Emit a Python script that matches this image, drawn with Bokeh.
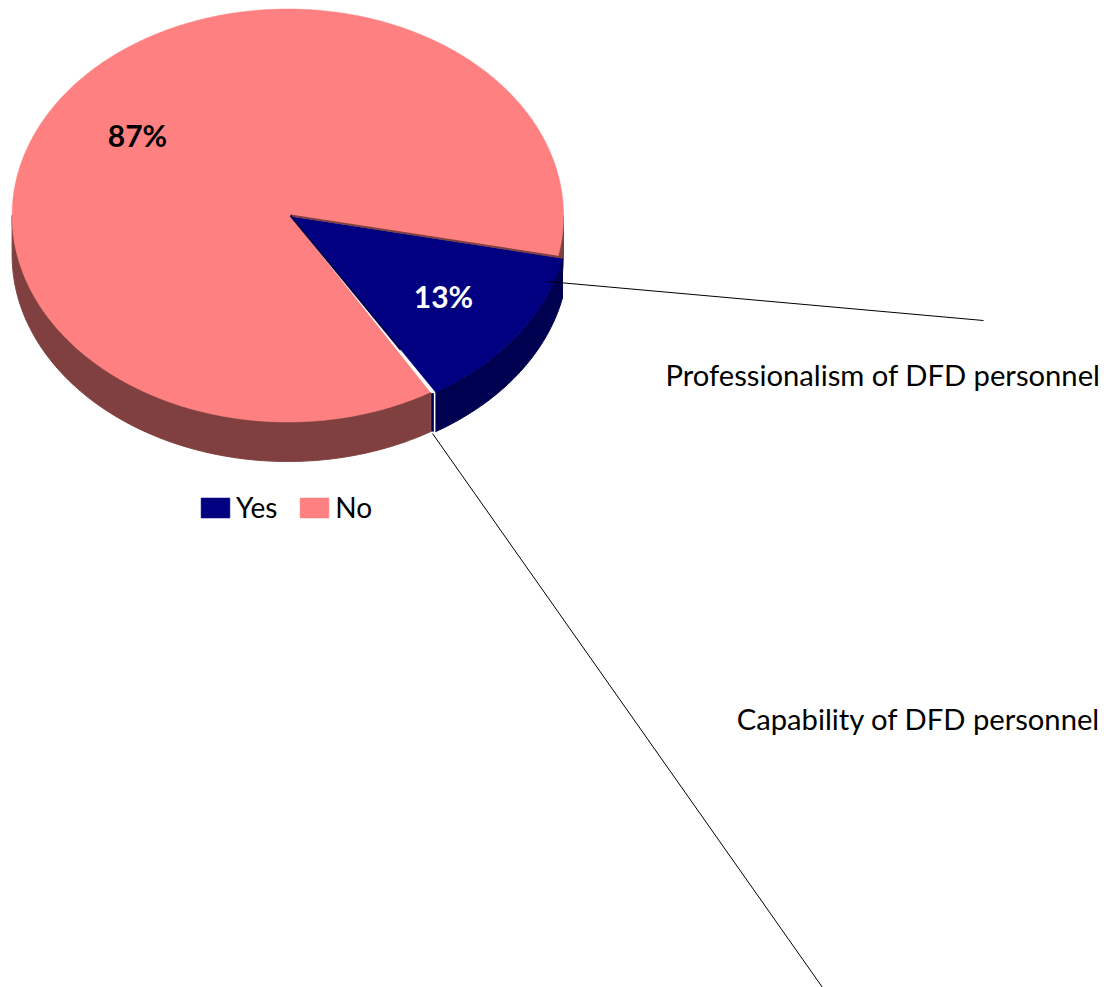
import numpy as np
from bokeh.plotting import figure
from bokeh.models import Legend, LegendItem, ColumnDataSource
from bokeh.core.properties import value
from bokeh.embed import file_html
from bokeh.resources import INLINE

categories = ["Yes", "No"]
shares = [13, 87]
share_labels = ["13%", "87%"]
callouts = ["Professionalism of DFD personnel", "Capability of DFD personnel"]

TOP = ["#000080", "#FF8080"]
WALL = ["#000050", "#804040"]
FONT = value("Lato")

CX, CY, RX, RY, DEPTH = 287.3, 215.0, 275.7, 206.5, 39.5
START = 12.0
HUB = (290.0, 215.0)
EXPLODE = 5.0

def pt(deg, dy=0.0, dx=0.0):
    a = np.radians(deg)
    return CX + dx + RX * np.cos(a), CY + RY * np.sin(a) + dy

def arc(a0, a1, dy=0.0, dx=0.0):
    t = np.linspace(a0, a1, max(4, int(abs(a1 - a0) * 2)))
    return pt(t, dy, dx)

def wall(a0, a1, dx=0.0):
    x0, y0 = arc(a0, a1, 0.0, dx)
    x1, y1 = arc(a1, a0, DEPTH, dx)
    return list(np.r_[x0, x1]), list(np.r_[y0, y1])

boundary = START + shares[0] / sum(shares) * 360.0
end = START + 360.0

p = figure(width=1104, height=987, x_range=(0, 1104), y_range=(987, 0),
           output_backend="svg", toolbar_location=None, min_border=0,
           outline_line_color=None, background_fill_color="white",
           margin=(0, 0, 0, 0))
p.xaxis.visible = False
p.yaxis.visible = False
p.grid.visible = False

# leader line behind the walls
p.line([432, 822], [433, 987], line_color="#000000", line_width=1)

# side walls
wx, wy = wall(0, START + 2)
p.patch(wx, wy, fill_color=WALL[1], line_color=WALL[1])
wx, wy = wall(START, boundary, EXPLODE)
p.patch(wx, wy, fill_color=WALL[0], line_color=WALL[0])
wx, wy = wall(boundary, 180)
p.patch(wx, wy, fill_color=WALL[1], line_color=WALL[1])

# top faces
xa, ya = arc(boundary, end)
no = p.patch(list(np.r_[HUB[0], xa]), list(np.r_[HUB[1], ya]),
             fill_color=TOP[1], line_color=TOP[1], line_width=0.5)

bx0, by0 = pt(boundary)
bx, by = pt(boundary, 0.0, EXPLODE)
p.patch([HUB[0], bx0, bx], [HUB[1], by0, by], fill_color="#FFFFFF", line_color="#FFFFFF", line_width=0.5)

xb, yb = arc(START, boundary, 0.0, EXPLODE)
yes = p.patch(list(np.r_[HUB[0] + 1, xb]), list(np.r_[HUB[1] + 1, yb]),
              fill_color=TOP[0], line_color=TOP[0], line_width=0.5)

# slice edges
sx, sy = pt(START, 0.0, EXPLODE)
p.line([HUB[0], sx], [HUB[1], sy - 1], line_color=WALL[1], line_width=2)
mx, my = HUB[0] + 0.76 * (bx - HUB[0]), HUB[1] + 0.76 * (by - HUB[1])
p.line([HUB[0], mx], [HUB[1], my], line_color=WALL[0], line_width=2)
p.line([bx - 3, bx - 3], [by0 + 1, by + DEPTH], line_color=WALL[0], line_width=3)
p.line([bx - 1, bx - 1], [by0 + 1, by + DEPTH], line_color="#FFFFFF", line_width=1.5)

# upper leader line, over the slice
p.line([547, 983], [281, 320], line_color="#000000", line_width=1)

src = ColumnDataSource(dict(x=[443, 137], y=[295, 134], t=share_labels, c=["#FFFFFF", "#000000"]))
p.text("x", "y", text="t", source=src, text_color="c", text_font=FONT,
       text_font_size="30px", text_font_style="bold", text_align="center", text_baseline="middle")
src2 = ColumnDataSource(dict(x=[1100, 1100], y=[374, 718], t=callouts))
p.text("x", "y", text="t", source=src2, text_color="#000000", text_font=FONT,
       text_font_size="29.2px", text_align="right", text_baseline="middle")

legend = Legend(items=[LegendItem(label=categories[0], renderers=[yes]),
                       LegendItem(label=categories[1], renderers=[no])],
                orientation="horizontal", location=(197, 463),
                glyph_width=36, glyph_height=25, label_text_font="Lato",
                label_text_font_size="28px", label_text_color="#000000",
                background_fill_alpha=0, border_line_color=None,
                padding=10, margin=0, spacing=19, label_standoff=3)
p.add_layout(legend, "center")

open("out.html", "w").write(file_html(p, INLINE))
